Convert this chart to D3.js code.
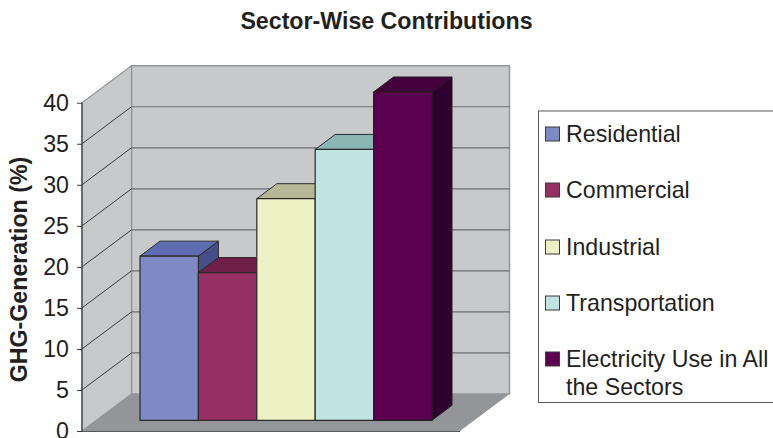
<!DOCTYPE html>
<html><head><meta charset="utf-8">
<script src="https://cdnjs.cloudflare.com/ajax/libs/d3/7.8.5/d3.min.js"></script>
<style>html,body{margin:0;padding:0;background:#fff}svg{display:block}text{font-family:"Liberation Sans",Arial,sans-serif;fill:#231f20}</style>
</head><body><svg id="c" width="773" height="438"></svg>
<script>
const categories=["Residential","Commercial","Industrial","Transportation","Electricity Use in All the Sectors"];
const values=[20,18,27,33,40];
const frontColors=["#7f8ac4","#963062","#edf2c4","#c0e4e2","#5c0050"];
const topColors=["#5f6bb0","#6e1f47","#b5b796","#8ab5b3","#44003c"];
const sideColors=["#454f87","#501533","#8b8d70","#6a8c8a","#2e0030"];
const yTicks=[0,5,10,15,20,25,30,35,40];
const titleText="Sector-Wise Contributions";
const yTitle="GHG-Generation (%)";

const svg=d3.select("#c");
const y=d3.scaleLinear().domain([0,40]).range([431,102.7]);
const x=d3.scaleBand().domain(categories).range([140,432]).padding(0);
const fx0=82,fx1=460,dx=49.5,dy=-37;
const barBase=420.3,barDx=20,barDy=-15;
const fs=23.2;
const h=v=>y(0)-y(v);
const poly=(pts,fill,stroke,sw=1)=>svg.append("polygon").attr("points",pts.map(p=>p.join(",")).join(" ")).attr("fill",fill).attr("stroke",stroke||"none").attr("stroke-width",sw).attr("stroke-linejoin","round");

svg.append("text").attr("x",386.5).attr("y",29).attr("text-anchor","middle").attr("font-weight","bold").attr("font-size",fs).text(titleText);

// walls and floor
poly([[fx0+dx,y(40)+dy],[fx1+dx,y(40)+dy],[fx1+dx,y(0)+dy],[fx0+dx,y(0)+dy]],"#c8c9cb","#949598",1.5);
poly([[fx0,y(40)],[fx0+dx,y(40)+dy],[fx0+dx,y(0)+dy],[fx0,y(0)]],"#c8c9cb","#949598",1.2);
poly([[fx0,y(0)],[fx0+dx,y(0)+dy],[fx1+dx,y(0)+dy],[fx1,y(0)]],"#939598");

// gridlines
const grid=yTicks.filter(t=>t>0&&t<40);
svg.append("g").selectAll("line").data(grid).join("line")
  .attr("x1",fx0+dx).attr("x2",fx1+dx).attr("y1",d=>y(d)+dy).attr("y2",d=>y(d)+dy)
  .attr("stroke","#6d6e71").attr("stroke-width",1.2);
svg.append("g").selectAll("line").data(grid).join("line")
  .attr("x1",fx0).attr("x2",fx0+dx).attr("y1",d=>y(d)).attr("y2",d=>y(d)+dy)
  .attr("stroke","#3a3a3c").attr("stroke-width",1);
svg.append("line").attr("x1",fx0).attr("x2",fx1).attr("y1",y(0)+.5).attr("y2",y(0)+.5).attr("stroke","#58595b").attr("stroke-width",1);

// bars
categories.forEach((c,i)=>{
  const l=x(c),r=l+x.bandwidth(),t=barBase-h(values[i]),b=barBase;
  const s=i===4?"#231f20":"#2a2a2a";
  poly([[r,t],[r+barDx,t+barDy],[r+barDx,b+barDy],[r,b]],sideColors[i],s,1);
  poly([[l,t],[l+barDx,t+barDy],[r+barDx,t+barDy],[r,t]],topColors[i],s,1);
  poly([[l,t],[r,t],[r,b],[l,b]],frontColors[i],s,1.2);
});

// y axis
const ax=svg.append("g").attr("transform",`translate(${fx0},0)`).call(d3.axisLeft(y).tickValues(yTicks).tickSize(5).tickPadding(8));
ax.selectAll("path").attr("stroke","#3a3a3c").attr("stroke-width",1.2).attr("d",`M0,${y(40)}V${y(0)}`);
ax.selectAll("line").attr("stroke","#3a3a3c");
ax.selectAll("text").attr("font-size",fs).attr("font-family",'"Liberation Sans",Arial,sans-serif').attr("fill","#231f20");
svg.append("text").attr("transform","translate(27,269.5) rotate(-90)").attr("text-anchor","middle").attr("font-weight","bold").attr("font-size",fs).text(yTitle);

// legend
svg.append("rect").attr("x",538.5).attr("y",111).attr("width",240).attr("height",291.5).attr("fill","#fff").attr("stroke","#58595b").attr("stroke-width",1);
const legendY=[134,190,247,303,359];
categories.forEach((c,i)=>{
  svg.append("rect").attr("x",545.5).attr("y",legendY[i]-7).attr("width",14).attr("height",14).attr("fill",frontColors[i]).attr("stroke","#3a3a3c").attr("stroke-width",1);
  const words=c==="Electricity Use in All the Sectors"?["Electricity Use in All","the Sectors"]:[c];
  words.forEach((w,k)=>svg.append("text").attr("x",566).attr("y",legendY[i]+8+k*28).attr("font-size",fs).text(w));
});
</script></body></html>
